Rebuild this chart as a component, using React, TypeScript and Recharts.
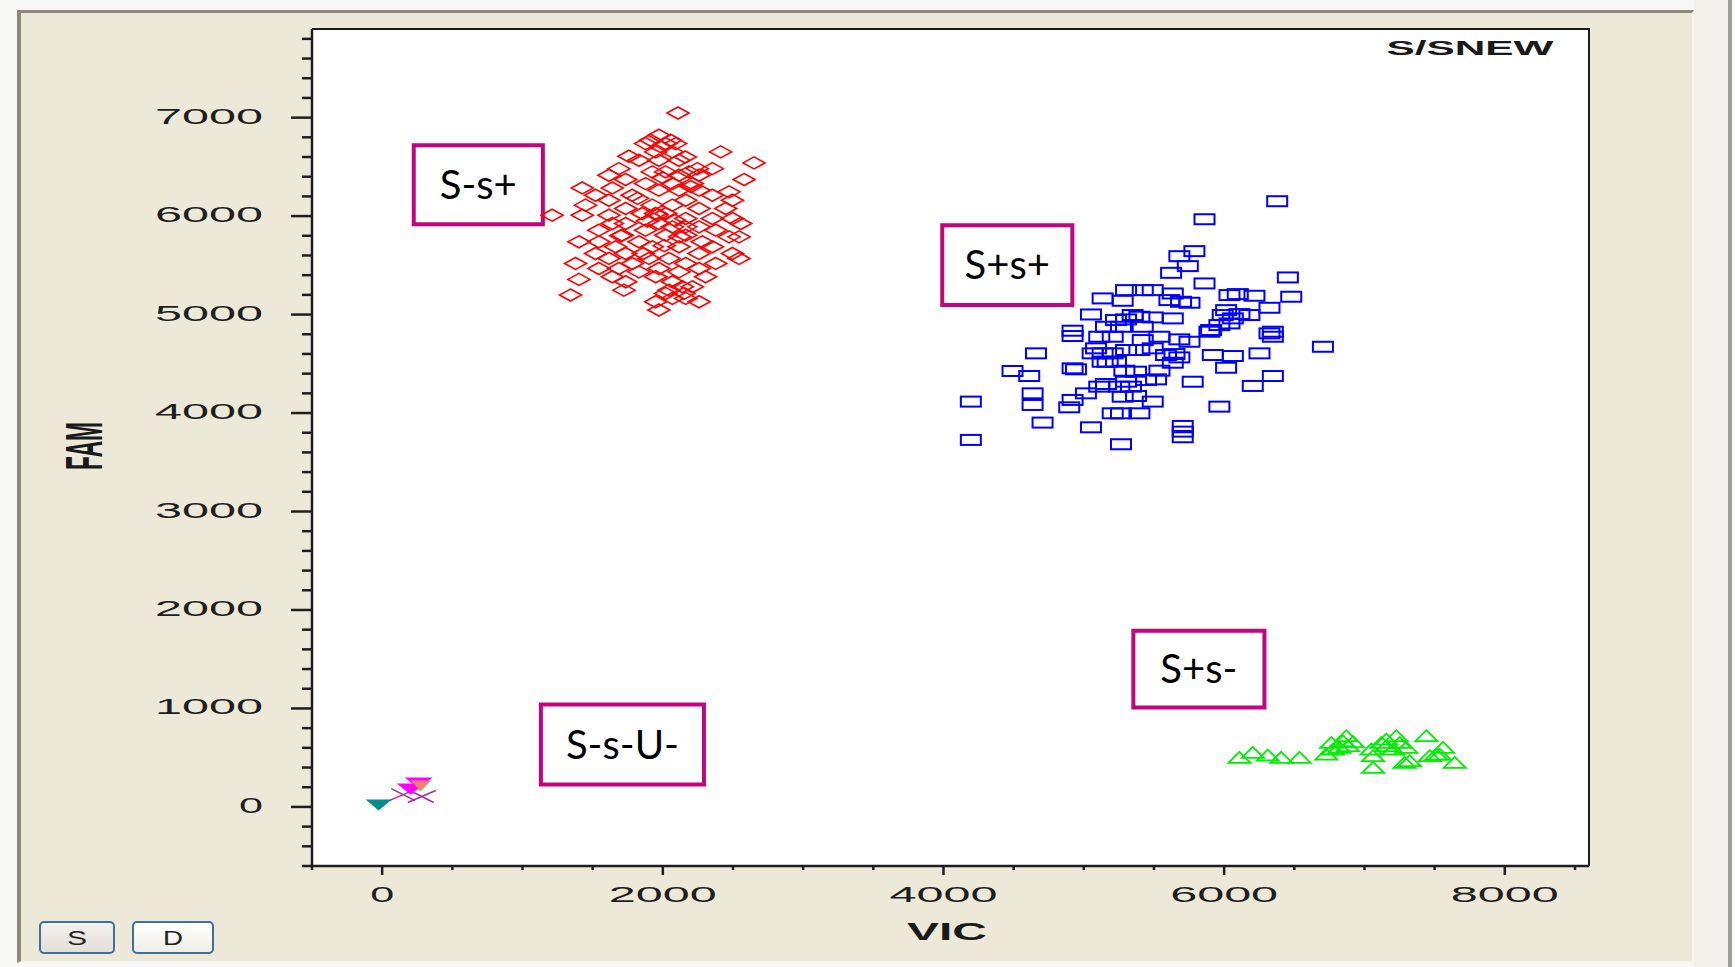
import React from 'react';
import { ScatterChart, Scatter, XAxis, YAxis, ReferenceArea, Label } from 'recharts';

// VIC / FAM allele discrimination plot

const xTicks = [-500, 0, 500, 1000, 1500, 2000, 2500, 3000, 3500, 4000, 4500, 5000, 5500, 6000, 6500, 7000, 7500, 8000, 8500];
const xLabelled = [0, 2000, 4000, 6000, 8000];
const yTicks = [-600, -400, -200, 0, 200, 400, 600, 800, 1000, 1200, 1400, 1600, 1800, 2000, 2200, 2400, 2600, 2800, 3000, 3200, 3400, 3600, 3800, 4000, 4200, 4400, 4600, 4800, 5000, 5200, 5400, 5600, 5800, 6000, 6200, 6400, 6600, 6800, 7000, 7200, 7400, 7600, 7800];
const yLabelled = [0, 1000, 2000, 3000, 4000, 5000, 6000, 7000];

// S-s+ (red diamonds)
const sMinusSPlus = [
  { x: 2108, y: 7047 }, { x: 1972, y: 6821 }, { x: 1913, y: 6770 }, { x: 2056, y: 6770 },
  { x: 1877, y: 6736 }, { x: 2020, y: 6736 }, { x: 2091, y: 6736 }, { x: 1949, y: 6652 },
  { x: 2068, y: 6652 }, { x: 2412, y: 6652 }, { x: 1758, y: 6608 }, { x: 1830, y: 6567 },
  { x: 1972, y: 6567 }, { x: 2115, y: 6567 }, { x: 2650, y: 6540 }, { x: 1687, y: 6482 },
  { x: 2246, y: 6482 }, { x: 2353, y: 6482 }, { x: 1925, y: 6449 }, { x: 2020, y: 6449 },
  { x: 2186, y: 6449 }, { x: 1616, y: 6415 }, { x: 2115, y: 6415 }, { x: 2258, y: 6415 },
  { x: 2579, y: 6371 }, { x: 1735, y: 6371 }, { x: 1877, y: 6330 }, { x: 2068, y: 6330 },
  { x: 2210, y: 6330 }, { x: 1426, y: 6286 }, { x: 1640, y: 6286 }, { x: 1972, y: 6263 },
  { x: 2115, y: 6263 }, { x: 2258, y: 6263 }, { x: 2472, y: 6246 }, { x: 1521, y: 6212 },
  { x: 1782, y: 6212 }, { x: 2353, y: 6212 }, { x: 1616, y: 6161 }, { x: 2163, y: 6161 },
  { x: 2496, y: 6161 }, { x: 1449, y: 6111 }, { x: 1925, y: 6111 }, { x: 2068, y: 6111 },
  { x: 1735, y: 6077 }, { x: 2258, y: 6077 }, { x: 2448, y: 6077 }, { x: 1853, y: 6026 },
  { x: 1949, y: 6026 }, { x: 2020, y: 6026 }, { x: 1211, y: 6009 }, { x: 1426, y: 6009 },
  { x: 1616, y: 6009 }, { x: 2163, y: 5975 }, { x: 2353, y: 5975 }, { x: 2496, y: 5975 },
  { x: 1640, y: 5925 }, { x: 1735, y: 5925 }, { x: 1972, y: 5925 }, { x: 2555, y: 5925 },
  { x: 2068, y: 5891 }, { x: 2163, y: 5891 }, { x: 2258, y: 5891 }, { x: 1544, y: 5857 },
  { x: 1877, y: 5857 }, { x: 2377, y: 5857 }, { x: 1711, y: 5806 }, { x: 2020, y: 5806 },
  { x: 2163, y: 5806 }, { x: 2472, y: 5789 }, { x: 2543, y: 5789 }, { x: 1402, y: 5739 },
  { x: 1544, y: 5739 }, { x: 1830, y: 5739 }, { x: 2281, y: 5739 }, { x: 1663, y: 5688 },
  { x: 1925, y: 5688 }, { x: 2115, y: 5688 }, { x: 2353, y: 5688 }, { x: 1521, y: 5620 },
  { x: 1735, y: 5620 }, { x: 2258, y: 5620 }, { x: 2496, y: 5620 }, { x: 1616, y: 5570 },
  { x: 1901, y: 5570 }, { x: 2044, y: 5570 }, { x: 2543, y: 5570 }, { x: 1378, y: 5519 },
  { x: 1782, y: 5519 }, { x: 2163, y: 5519 }, { x: 2377, y: 5519 }, { x: 1544, y: 5468 },
  { x: 1687, y: 5468 }, { x: 1972, y: 5468 }, { x: 2258, y: 5468 }, { x: 1830, y: 5434 },
  { x: 2115, y: 5434 }, { x: 1640, y: 5384 }, { x: 1949, y: 5384 }, { x: 2305, y: 5384 },
  { x: 1402, y: 5357 }, { x: 1735, y: 5333 }, { x: 2068, y: 5333 }, { x: 2139, y: 5282 },
  { x: 2210, y: 5282 }, { x: 1723, y: 5248 }, { x: 2044, y: 5248 }, { x: 2151, y: 5215 },
  { x: 2020, y: 5215 }, { x: 1342, y: 5198 }, { x: 2068, y: 5164 }, { x: 2163, y: 5164 },
  { x: 2258, y: 5130 }, { x: 1949, y: 5130 }, { x: 1972, y: 5046 }, { x: 1990, y: 6700 },
  { x: 2000, y: 6390 }, { x: 1960, y: 6010 }, { x: 2080, y: 5960 }, { x: 1890, y: 5950 },
  { x: 2010, y: 5700 }, { x: 2120, y: 5790 }, { x: 1820, y: 6180 }, { x: 1700, y: 5800 },
  { x: 2200, y: 6300 }, { x: 1860, y: 5620 }, { x: 2160, y: 6600 },
];

// S+s+ (blue squares)
const sPlusSPlus = [
  { x: 6378, y: 6151 }, { x: 5860, y: 5968 }, { x: 5788, y: 5644 }, { x: 5681, y: 5593 },
  { x: 5741, y: 5492 }, { x: 5622, y: 5424 }, { x: 5860, y: 5316 }, { x: 6454, y: 5377 },
  { x: 6478, y: 5181 }, { x: 6216, y: 5191 }, { x: 6097, y: 5208 }, { x: 6323, y: 5069 },
  { x: 6704, y: 4673 }, { x: 5134, y: 5164 }, { x: 5277, y: 5140 }, { x: 5420, y: 5248 },
  { x: 5491, y: 5248 }, { x: 5634, y: 5214 }, { x: 5693, y: 5130 }, { x: 5753, y: 5120 },
  { x: 5051, y: 5001 }, { x: 5229, y: 4944 }, { x: 5301, y: 4951 }, { x: 5396, y: 4978 },
  { x: 5491, y: 4971 }, { x: 5634, y: 4961 }, { x: 4920, y: 4836 }, { x: 4920, y: 4782 },
  { x: 5110, y: 4775 }, { x: 5206, y: 4775 }, { x: 5158, y: 4876 }, { x: 5265, y: 4876 },
  { x: 5420, y: 4741 }, { x: 5539, y: 4775 }, { x: 5681, y: 4748 }, { x: 5753, y: 4724 },
  { x: 5907, y: 4843 }, { x: 5990, y: 4995 }, { x: 6109, y: 5005 }, { x: 5966, y: 4893 },
  { x: 6038, y: 4910 }, { x: 5895, y: 4826 }, { x: 6323, y: 4809 }, { x: 6347, y: 4775 },
  { x: 6252, y: 4606 }, { x: 4659, y: 4606 }, { x: 4492, y: 4427 }, { x: 4611, y: 4376 },
  { x: 4920, y: 4454 }, { x: 4944, y: 4444 }, { x: 5134, y: 4606 }, { x: 5206, y: 4606 },
  { x: 5134, y: 4521 }, { x: 5229, y: 4521 }, { x: 5301, y: 4640 }, { x: 5396, y: 4640 },
  { x: 5289, y: 4430 }, { x: 5372, y: 4420 }, { x: 5539, y: 4430 }, { x: 5515, y: 4342 },
  { x: 5646, y: 4599 }, { x: 5634, y: 4511 }, { x: 5919, y: 4589 }, { x: 6062, y: 4579 },
  { x: 6014, y: 4460 }, { x: 5776, y: 4318 }, { x: 5158, y: 4295 }, { x: 5301, y: 4318 },
  { x: 5336, y: 4268 }, { x: 5015, y: 4200 }, { x: 4920, y: 4133 }, { x: 4896, y: 4058 },
  { x: 4635, y: 4200 }, { x: 4635, y: 4082 }, { x: 4195, y: 4116 }, { x: 4195, y: 3727 },
  { x: 4706, y: 3903 }, { x: 5051, y: 3855 }, { x: 5265, y: 3683 }, { x: 5265, y: 3997 },
  { x: 5396, y: 3997 }, { x: 5277, y: 4166 }, { x: 5372, y: 4173 }, { x: 5491, y: 4116 },
  { x: 5705, y: 3869 }, { x: 5705, y: 3811 }, { x: 5705, y: 3754 }, { x: 5966, y: 4065 },
  { x: 6204, y: 4275 }, { x: 6347, y: 4376 }, { x: 6347, y: 4826 }, { x: 6180, y: 4995 },
  { x: 5087, y: 4657 }, { x: 5491, y: 4657 }, { x: 5586, y: 4589 }, { x: 5681, y: 4565 },
  { x: 5420, y: 4876 }, { x: 5348, y: 4995 }, { x: 6038, y: 5198 }, { x: 5301, y: 5248 },
  { x: 5610, y: 5147 }, { x: 6014, y: 5045 }, { x: 6062, y: 4961 }, { x: 5170, y: 4521 },
  { x: 5443, y: 4335 }, { x: 5110, y: 4268 }, { x: 5206, y: 3997 }, { x: 5253, y: 4268 },
  { x: 5063, y: 4606 },
];

// S+s- (green triangles)
const sPlusSMinus = [
  { x: 6109, y: 498 }, { x: 6204, y: 549 }, { x: 6311, y: 522 }, { x: 6407, y: 498 },
  { x: 6537, y: 498 }, { x: 6728, y: 532 }, { x: 6763, y: 650 }, { x: 6870, y: 718 },
  { x: 6882, y: 617 }, { x: 6823, y: 600 }, { x: 6918, y: 657 }, { x: 7061, y: 515 },
  { x: 7049, y: 583 }, { x: 7061, y: 397 }, { x: 7156, y: 684 }, { x: 7227, y: 718 },
  { x: 7251, y: 650 }, { x: 7298, y: 600 }, { x: 7156, y: 617 }, { x: 7203, y: 583 },
  { x: 7120, y: 650 }, { x: 7286, y: 448 }, { x: 7322, y: 465 }, { x: 7441, y: 718 },
  { x: 7465, y: 515 }, { x: 7512, y: 532 }, { x: 7560, y: 600 }, { x: 7536, y: 532 },
  { x: 7643, y: 448 }, { x: 6775, y: 583 }, { x: 6846, y: 667 },
];

// controls near the origin
const ntcPoints = [{ x: -25, y: 25 }];
const undeterminedPoints = [{ x: 260, y: 248 }, { x: 203, y: 188 }];
const salmonPoints = [{ x: 275, y: 218 }];
const crossPoints = [{ x: 282, y: 106 }, { x: 150, y: 125 }];

const genotypeBoxes = [
  { name: 'S-s+', x1: 225, x2: 1145, y1: 5918, y2: 6719 },
  { name: 'S+s+', x1: 3991, x2: 4918, y1: 5096, y2: 5908 },
  { name: 'S+s-', x1: 5353, x2: 6287, y1: 1009, y2: 1790 },
  { name: 'S-s-U-', x1: 1131, x2: 2293, y1: 228, y2: 1040 },
];

const tickFont = '"Liberation Sans", Arial, sans-serif';
const labelLen = (s: string) => (s.length === 1 ? 24 : s.length * 21 + (s.length - 1) * 8);

const XTick = ({ x, y, payload }: any) => {
  const v = payload.value;
  const major = xLabelled.includes(v);
  const s = String(v);
  return (
    <g>
      <line x1={x} x2={x} y1={y} y2={y + (major ? 9 : 4)} stroke="#1e1e1e" strokeWidth={2.5} />
      {major && (
        <text x={x} y={y + 36} textAnchor="middle" fontFamily={tickFont} fontSize={22} fill="#1e1e1e"
          textLength={labelLen(s)} lengthAdjust="spacingAndGlyphs">{s}</text>
      )}
    </g>
  );
};

const YTick = ({ x, y, payload }: any) => {
  const v = payload.value;
  const major = yLabelled.includes(v);
  const s = String(v);
  return (
    <g>
      <line x1={x - (major ? 21 : 10)} x2={x} y1={y} y2={y} stroke="#1e1e1e" strokeWidth={2.5} />
      {major && (
        <text x={x - 49} y={y + 6} textAnchor="end" fontFamily={tickFont} fontSize={22} fill="#1e1e1e"
          textLength={labelLen(s)} lengthAdjust="spacingAndGlyphs">{s}</text>
      )}
    </g>
  );
};

const Diamond = (p: any) => (
  <polygon points={`${p.cx},${p.cy - 6} ${p.cx + 11},${p.cy} ${p.cx},${p.cy + 6} ${p.cx - 11},${p.cy}`}
    fill="none" stroke="#FF0000" strokeWidth={1.6} />
);
const Square = (p: any) => (
  <rect x={p.cx - 10} y={p.cy - 5} width={20} height={10} fill="none" stroke="#0000FF" strokeWidth={2} />
);
const Triangle = (p: any) => (
  <polygon points={`${p.cx},${p.cy - 6} ${p.cx + 11},${p.cy + 5} ${p.cx - 11},${p.cy + 5}`}
    fill="none" stroke="#00EE00" strokeWidth={1.8} />
);
const DownTriangle = (color: string, w: number) => (p: any) => (
  <polygon points={`${p.cx - w},${p.cy - 5} ${p.cx + w},${p.cy - 5} ${p.cx},${p.cy + 6}`} fill={color} stroke="none" />
);
const Cross = (p: any) => (
  <g stroke="#A030B0" strokeWidth={1.5}>
    <line x1={p.cx - 14} y1={p.cy + 6} x2={p.cx + 14} y2={p.cy - 6} />
    <line x1={p.cx - 12} y1={p.cy - 6} x2={p.cx + 12} y2={p.cy + 6} />
  </g>
);

const Button = ({ left, width, text, bg }: { left: number; width: number; text: string; bg: string }) => (
  <div style={{
    position: 'absolute', left, top: 921, width, height: 33, boxSizing: 'border-box',
    border: '2px solid #3F6F9C', borderRadius: 5, background: bg,
    display: 'flex', alignItems: 'center', justifyContent: 'center',
  }}>
    <svg width={width - 4} height={29}>
      <text x={(width - 4) / 2} y={22} textAnchor="middle" fontFamily={tickFont} fontSize={21} fill="#222"
        textLength={20} lengthAdjust="spacingAndGlyphs">{text}</text>
    </svg>
  </div>
);

export default function App() {
  return (
    <div style={{ position: 'absolute', left: 0, top: 0, width: 1735, height: 967, background: '#F8F8F6', overflow: 'hidden' }}>
      {/* window panel */}
      <div style={{
        position: 'absolute', left: 17, top: 10, width: 1677, height: 953, boxSizing: 'border-box',
        background: '#ECE9D8', borderLeft: '4px solid #8C897B', borderTop: '3px solid #8C897B',
        borderRight: '2px solid #F6F5F0', borderBottom: '2px solid #F6F5F0',
      }} />
      <div style={{ position: 'absolute', left: 1694, top: 0, width: 34, height: 967, background: '#F1F0EB' }} />
      <div style={{ position: 'absolute', left: 1728, top: 0, width: 4, height: 967, background: '#9C9C9C' }} />
      {/* plot area */}
      <div style={{
        position: 'absolute', left: 312, top: 28, width: 1278, height: 838, boxSizing: 'border-box',
        background: '#FFFFFF', borderTop: '2px solid #1e1e1e', borderRight: '2px solid #1e1e1e',
      }} />
      <div style={{ position: 'absolute', left: 0, top: 0 }}>
        <ScatterChart width={1735} height={967} margin={{ top: 29, right: 146, bottom: 41, left: 232 }}>
          <XAxis type="number" dataKey="x" domain={[-500, 8600]} ticks={xTicks} interval={0}
            allowDataOverflow height={60} tickSize={0} tickMargin={0} tickLine={false}
            axisLine={{ stroke: '#1e1e1e', strokeWidth: 2.5 }} tick={<XTick />} />
          <YAxis type="number" dataKey="y" domain={[-600, 7900]} ticks={yTicks} interval={0}
            allowDataOverflow width={80} tickSize={0} tickMargin={0} tickLine={false}
            axisLine={{ stroke: '#1e1e1e', strokeWidth: 2.5 }} tick={<YTick />} />
          {genotypeBoxes.map((b) => (
            <ReferenceArea key={b.name} x1={b.x1} x2={b.x2} y1={b.y1} y2={b.y2}
              fill="#FFFFFF" fillOpacity={1} stroke="#C4047E" strokeWidth={4} ifOverflow="visible">
              <Label value={b.name} position="center" fontFamily="Lato, 'Open Sans', sans-serif" fontSize={40} fill="#000" />
            </ReferenceArea>
          ))}
          <Scatter name="S-s+" data={sMinusSPlus} shape={Diamond} isAnimationActive={false} />
          <Scatter name="S+s+" data={sPlusSPlus} shape={Square} isAnimationActive={false} />
          <Scatter name="S+s-" data={sPlusSMinus} shape={Triangle} isAnimationActive={false} />
          <Scatter name="NTC" data={ntcPoints} shape={DownTriangle('#0A8A8A', 13)} isAnimationActive={false} />
          <Scatter name="Undetermined" data={crossPoints} shape={Cross} isAnimationActive={false} />
          <Scatter name="Undetermined 2" data={undeterminedPoints} shape={DownTriangle('#FF00FF', 14)} isAnimationActive={false} />
          <Scatter name="Undetermined 3" data={salmonPoints} shape={DownTriangle('#F08070', 10)} isAnimationActive={false} />
        </ScatterChart>
      </div>
      {/* titles */}
      <svg width={1735} height={967} style={{ position: 'absolute', left: 0, top: 0, pointerEvents: 'none' }}>
        <text x={1470} y={55} textAnchor="middle" fontFamily={tickFont} fontWeight="bold" fontSize={21} fill="#1a1a1a"
          textLength={167} lengthAdjust="spacingAndGlyphs">S/SNEW</text>
        <text x={947} y={940} textAnchor="middle" fontFamily={tickFont} fontWeight="bold" fontSize={23} fill="#1a1a1a"
          textLength={80} lengthAdjust="spacingAndGlyphs">VIC</text>
        <text x={102} y={446} transform="rotate(-90 102 446)" textAnchor="middle" fontFamily={tickFont} fontWeight="bold"
          fontSize={52} fill="#1a1a1a" textLength={48} lengthAdjust="spacingAndGlyphs">FAM</text>
      </svg>
      <Button left={39} width={76} text="S" bg="linear-gradient(#F2F1EC, #E2E0D6)" />
      <Button left={132} width={82} text="D" bg="linear-gradient(#FFFFFF, #EEEDE6)" />
    </div>
  );
}
